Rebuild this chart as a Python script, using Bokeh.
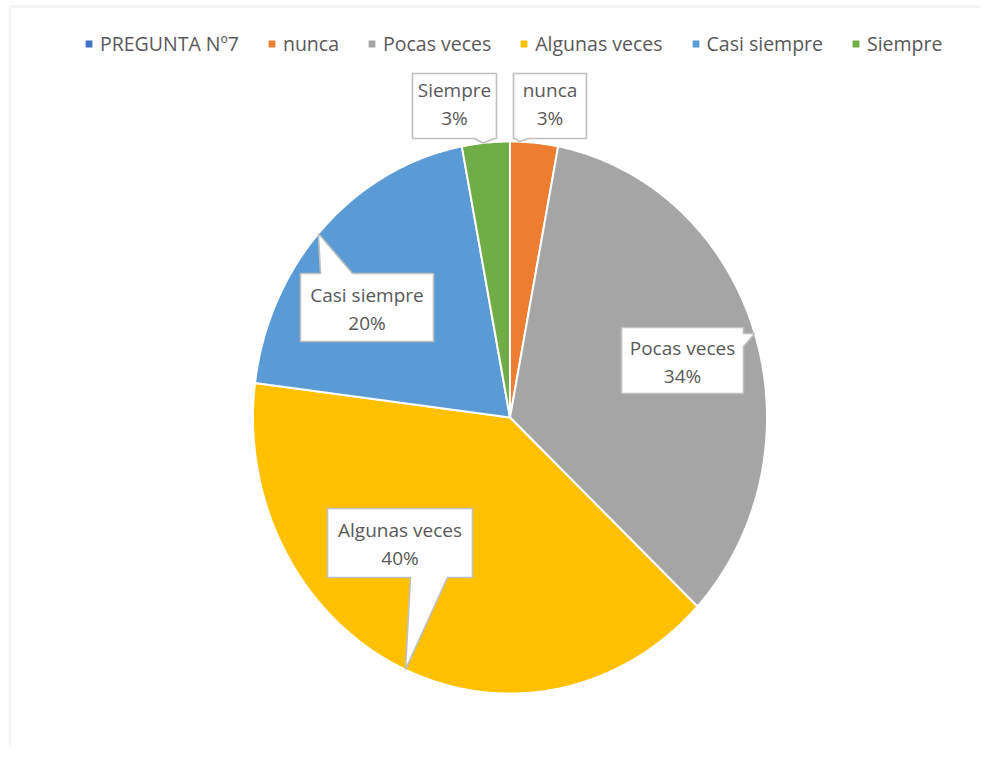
import numpy as np
from bokeh.plotting import figure
from bokeh.models import Range1d, ColumnDataSource, Legend, LegendItem, BoxAnnotation
from bokeh.core.properties import value
from bokeh.embed import file_html
from bokeh.resources import INLINE

# ---------------- data ----------------
categories = ["PREGUNTA Nº7", "nunca", "Pocas veces", "Algunas veces", "Casi siempre", "Siempre"]
percentages = [0, 3, 34, 40, 20, 3]
colors = ["#4472C4", "#ED7D31", "#A5A5A5", "#FFC000", "#5B9BD5", "#70AD47"]

# ---------------- layout ----------------
W, H = 980, 747
CX, CY = 509.5, 417.0      # pie centre (pixels)
RX, RY = 257.0, 276.0      # pie radii
TEXT_COLOR = "#595959"
FONT = "Open Sans"
LEG_FSIZE = "19.5px"
LBL_FSIZE = "19px"

# callout boxes: (left, right, top, bottom), edge holding the pointer, pointer base,
# pointer angle (deg clockwise from top), vertical text shift
callouts = {
    "nunca":         dict(box=(513, 586, 73, 138), edge="bottom", base=(515, 528), ang=2.0, dy=-3),
    "Pocas veces":   dict(box=(621, 743, 327, 393), edge="right", base=(333, 346), ang=72.3, dy=0),
    "Algunas veces": dict(box=(327, 472, 508, 577), edge="bottom", base=(410, 447), ang=204.0, dy=0),
    "Casi siempre":  dict(box=(300, 433, 273, 341), edge="top", base=(320, 352), ang=311.8, dy=0),
    "Siempre":       dict(box=(412, 496, 73, 138), edge="bottom", base=(474, 494), ang=354.0, dy=-3),
}

p = figure(width=W, height=H, x_range=Range1d(0, W), y_range=Range1d(H, 0),
           output_backend="svg", toolbar_location=None, min_border=0,
           x_axis_location=None, y_axis_location=None)
p.grid.visible = False
p.outline_line_color = None
p.background_fill_color = "white"
p.border_fill_color = "white"

# chart-area border (left and top visible)
p.add_layout(BoxAnnotation(left=9.5, right=5000, top=6, bottom=5000, fill_alpha=0,
                           line_color="#d9d9d9", line_width=2.5))

# ---------------- pie slices ----------------
total = float(sum(percentages))
fr = np.cumsum([0] + percentages) / total
xs, ys = [], []
for i in range(len(categories)):
    a0, a1 = fr[i] * 2 * np.pi, fr[i + 1] * 2 * np.pi
    if a1 > a0:
        t = np.linspace(a0, a1, max(int((a1 - a0) * 120), 3))
        xs.append([CX] + list(CX + RX * np.sin(t)))
        ys.append([CY] + list(CY - RY * np.cos(t)))
    else:
        xs.append([CX, CX])
        ys.append([CY, CY])

src = ColumnDataSource(dict(xs=xs, ys=ys, color=colors, cat=categories))
r = p.patches("xs", "ys", source=src, fill_color="color", line_color="white", line_width=2)

# ---------------- callouts ----------------
def callout_poly(box, edge, base, apex):
    l, rr, t, b = box
    ax, ay = apex
    b0, b1 = base
    pts = []
    pts.append((l, t))
    if edge == "top":
        pts += [(b0, t), (ax, ay), (b1, t)]
    pts.append((rr, t))
    if edge == "right":
        pts += [(rr, b0), (ax, ay), (rr, b1)]
    pts.append((rr, b))
    if edge == "bottom":
        pts += [(b1, b), (ax, ay), (b0, b)]
    pts.append((l, b))
    if edge == "left":
        pts += [(l, b1), (ax, ay), (l, b0)]
    return [q[0] for q in pts], [q[1] for q in pts]

cxs, cys, tx, ty, tt = [], [], [], [], []
for cat, pct in zip(categories, percentages):
    if cat not in callouts:
        continue
    c = callouts[cat]
    ang = np.deg2rad(c["ang"])
    apex = (CX + RX * np.sin(ang), CY - RY * np.cos(ang))
    px, py = callout_poly(c["box"], c["edge"], c["base"], apex)
    cxs.append(px)
    cys.append(py)
    l, rr, t, b = c["box"]
    mx, my = (l + rr) / 2, (t + b) / 2 + c["dy"]
    tx += [mx, mx]
    ty += [my - 13, my + 15]
    tt += [cat, f"{pct}%"]

p.patches(cxs, cys, fill_color="white", line_color="#bfbfbf", line_width=1.6)
p.text(tx, ty, text=tt, text_font=value(FONT), text_font_size=value(LBL_FSIZE),
       text_align="center", text_baseline="middle", text_color=TEXT_COLOR)

# ---------------- legend ----------------
items = [LegendItem(label=c, renderers=[r], index=i) for i, c in enumerate(categories)]
leg = Legend(items=items, orientation="horizontal", location=(83, 690),
             glyph_width=11, glyph_height=11, label_standoff=6, spacing=27,
             padding=0, margin=0, border_line_color=None, background_fill_alpha=0,
             label_text_font=FONT, label_text_font_size=LEG_FSIZE, label_text_color=TEXT_COLOR)
p.add_layout(leg)

open("out.html", "w").write(file_html(p, INLINE))
